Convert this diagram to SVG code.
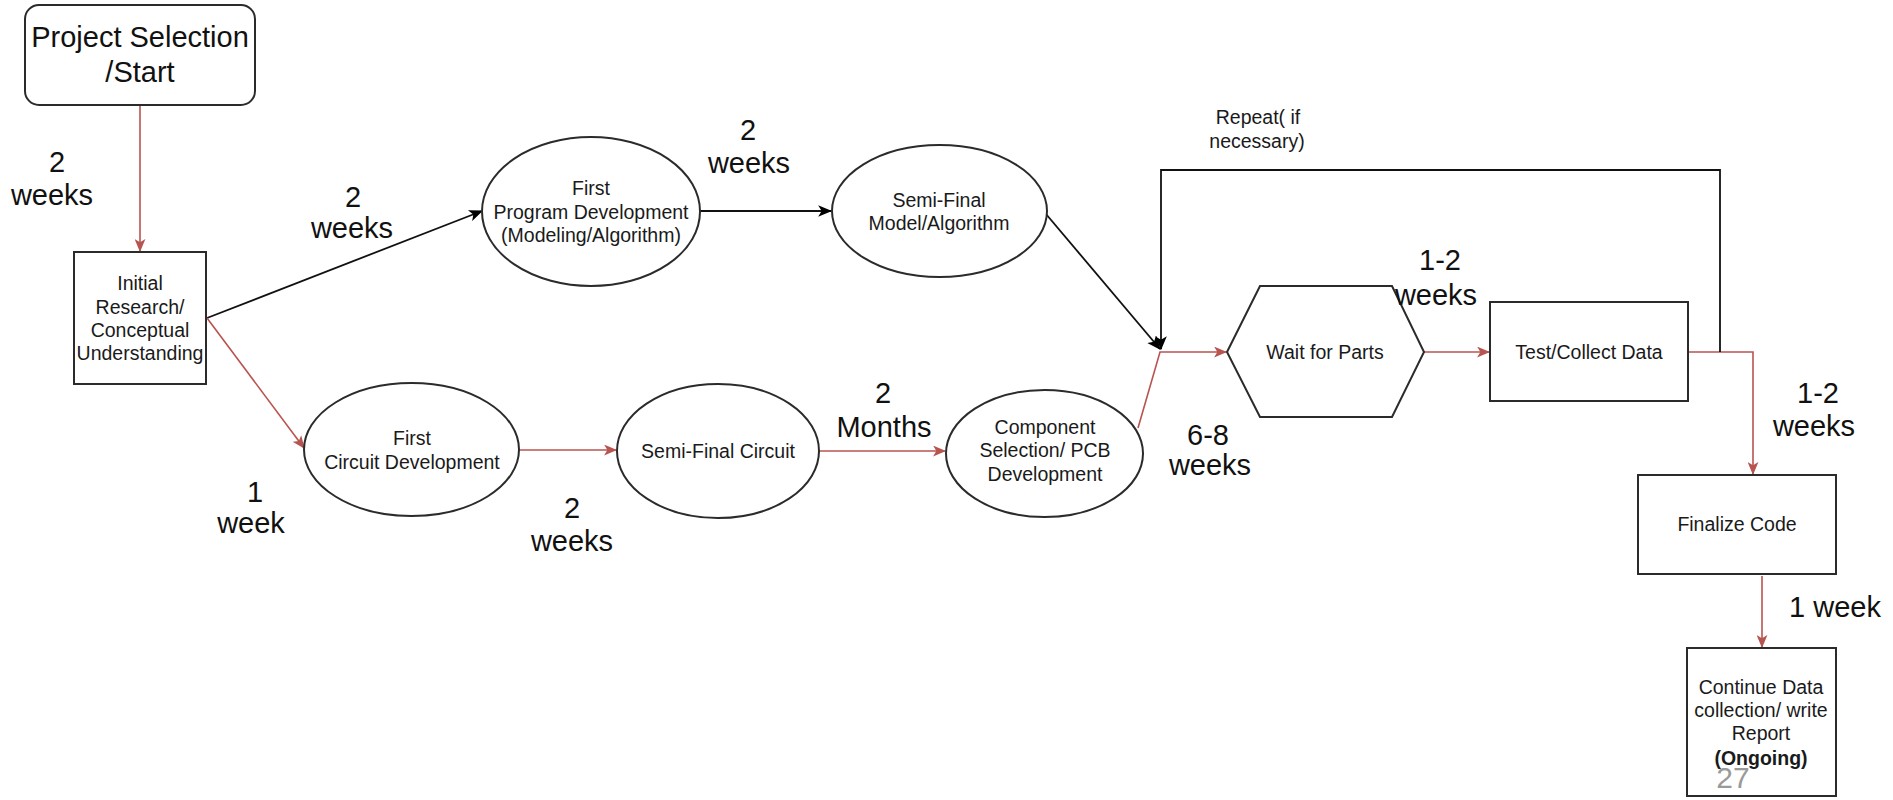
<svg xmlns="http://www.w3.org/2000/svg" width="1893" height="800" viewBox="0 0 1893 800">
<defs>
<style>
.nd{fill:#fff;stroke:#2b2b2b;stroke-width:2}
.t{font-family:"Liberation Sans",Arial,sans-serif;font-size:19.5px;fill:#1a1a1a;text-anchor:middle}
.big{font-family:"Liberation Sans",Arial,sans-serif;font-size:29px;fill:#111;text-anchor:middle}
.r{fill:none;stroke:#b85450;stroke-width:1.6}
.k{fill:none;stroke:#111;stroke-width:1.8}
</style>
<marker id="ar" viewBox="0 0 12 10" refX="11" refY="5" markerWidth="13" markerHeight="11" markerUnits="userSpaceOnUse" orient="auto"><path d="M0,0 L12,5 L0,10 L3,5 z" fill="#b85450"/></marker>
<marker id="ak" viewBox="0 0 12 10" refX="11" refY="5" markerWidth="14" markerHeight="12" markerUnits="userSpaceOnUse" orient="auto"><path d="M0,0 L12,5 L0,10 L3,5 z" fill="#000"/></marker>
</defs>
<rect width="1893" height="800" fill="#fff"/>

<g id="connectors">
<line class="r" x1="140" y1="105" x2="140" y2="251" marker-end="url(#ar)"/>
<line class="k" x1="207" y1="318" x2="482" y2="211" marker-end="url(#ak)"/>
<line class="r" x1="207" y1="318" x2="304" y2="448" marker-end="url(#ar)"/>
<line class="k" x1="700" y1="211" x2="831" y2="211" marker-end="url(#ak)"/>
<line class="r" x1="519" y1="450" x2="616" y2="450" marker-end="url(#ar)"/>
<line class="r" x1="819" y1="451" x2="945" y2="451" marker-end="url(#ar)"/>
<line class="k" x1="1046" y1="214" x2="1160" y2="349" marker-end="url(#ak)"/>
<polyline class="r" points="1138,428 1160,352 1226,352" marker-end="url(#ar)"/>
<line class="r" x1="1424" y1="352" x2="1489" y2="352" marker-end="url(#ar)"/>
<polyline class="r" points="1688,352 1753,352 1753,474" marker-end="url(#ar)"/>
<polyline class="k" points="1720,352 1720,170 1161,170 1161,349" marker-end="url(#ak)"/>
<line class="r" x1="1762" y1="576" x2="1762" y2="647" marker-end="url(#ar)"/>
</g>

<g id="project-selection">
<rect class="nd" x="25" y="5" width="230" height="100" rx="14"/>
<text class="big" x="140" y="47">Project Selection</text>
<text class="big" x="140" y="82">/Start</text>
</g>
<g id="initial-research">
<rect class="nd" x="74" y="252" width="132" height="132"/>
<text class="t" x="140" y="290">Initial</text>
<text class="t" x="140" y="314">Research/</text>
<text class="t" x="140" y="337">Conceptual</text>
<text class="t" x="140" y="360">Understanding</text>
</g>
<g id="first-program">
<ellipse class="nd" cx="591" cy="211.5" rx="109" ry="74.5"/>
<text class="t" x="591" y="195">First</text>
<text class="t" x="591" y="219">Program Development</text>
<text class="t" x="591" y="242">(Modeling/Algorithm)</text>
</g>
<g id="semi-final-model">
<ellipse class="nd" cx="939.5" cy="211" rx="107.5" ry="66"/>
<text class="t" x="939" y="207">Semi-Final</text>
<text class="t" x="939" y="230">Model/Algorithm</text>
</g>
<g id="first-circuit">
<ellipse class="nd" cx="411.5" cy="449.5" rx="107.5" ry="66.5"/>
<text class="t" x="412" y="445">First</text>
<text class="t" x="412" y="469">Circuit Development</text>
</g>
<g id="semi-final-circuit">
<ellipse class="nd" cx="718" cy="451" rx="101" ry="67"/>
<text class="t" x="718" y="458">Semi-Final Circuit</text>
</g>
<g id="component-selection">
<ellipse class="nd" cx="1044.5" cy="453.5" rx="98.5" ry="63.5"/>
<text class="t" x="1045" y="434">Component</text>
<text class="t" x="1045" y="457">Selection/ PCB</text>
<text class="t" x="1045" y="481">Development</text>
</g>
<g id="wait-for-parts">
<polygon class="nd" points="1227,352 1260,286 1392,286 1424,352 1392,417 1260,417"/>
<text class="t" x="1325" y="359">Wait for Parts</text>
</g>
<g id="test-collect">
<rect class="nd" x="1490" y="302" width="198" height="99"/>
<text class="t" x="1589" y="359">Test/Collect Data</text>
</g>
<g id="finalize-code">
<rect class="nd" x="1638" y="475" width="198" height="99"/>
<text class="t" x="1737" y="531">Finalize Code</text>
</g>
<g id="continue-data">
<rect class="nd" x="1687" y="648" width="149" height="148"/>
<text class="t" x="1761" y="694">Continue Data</text>
<text class="t" x="1761" y="717">collection/ write</text>
<text class="t" x="1761" y="740">Report</text>
<text class="t" x="1761" y="765" font-weight="bold">(Ongoing)</text>
</g>

<g id="labels">
<text class="big" x="57" y="172">2</text>
<text class="big" x="52" y="205">weeks</text>
<text class="big" x="353" y="207">2</text>
<text class="big" x="352" y="238">weeks</text>
<text class="big" x="748" y="140">2</text>
<text class="big" x="749" y="173">weeks</text>
<text class="big" x="255" y="502">1</text>
<text class="big" x="251" y="533">week</text>
<text class="big" x="572" y="518">2</text>
<text class="big" x="572" y="551">weeks</text>
<text class="big" x="883" y="403">2</text>
<text class="big" x="884" y="437">Months</text>
<text class="big" x="1208" y="445">6-8</text>
<text class="big" x="1210" y="475">weeks</text>
<text class="big" x="1440" y="270">1-2</text>
<text class="big" x="1436" y="305">weeks</text>
<text class="big" x="1818" y="403">1-2</text>
<text class="big" x="1814" y="436">weeks</text>
<text class="big" x="1835" y="617">1 week</text>
<text class="t" x="1258" y="124">Repeat( if</text>
<text class="t" x="1257" y="148">necessary)</text>
</g>
<text x="1733" y="788" font-family="'Liberation Sans',Arial,sans-serif" font-size="30" fill="#9a9a9a" text-anchor="middle">27</text>
</svg>
